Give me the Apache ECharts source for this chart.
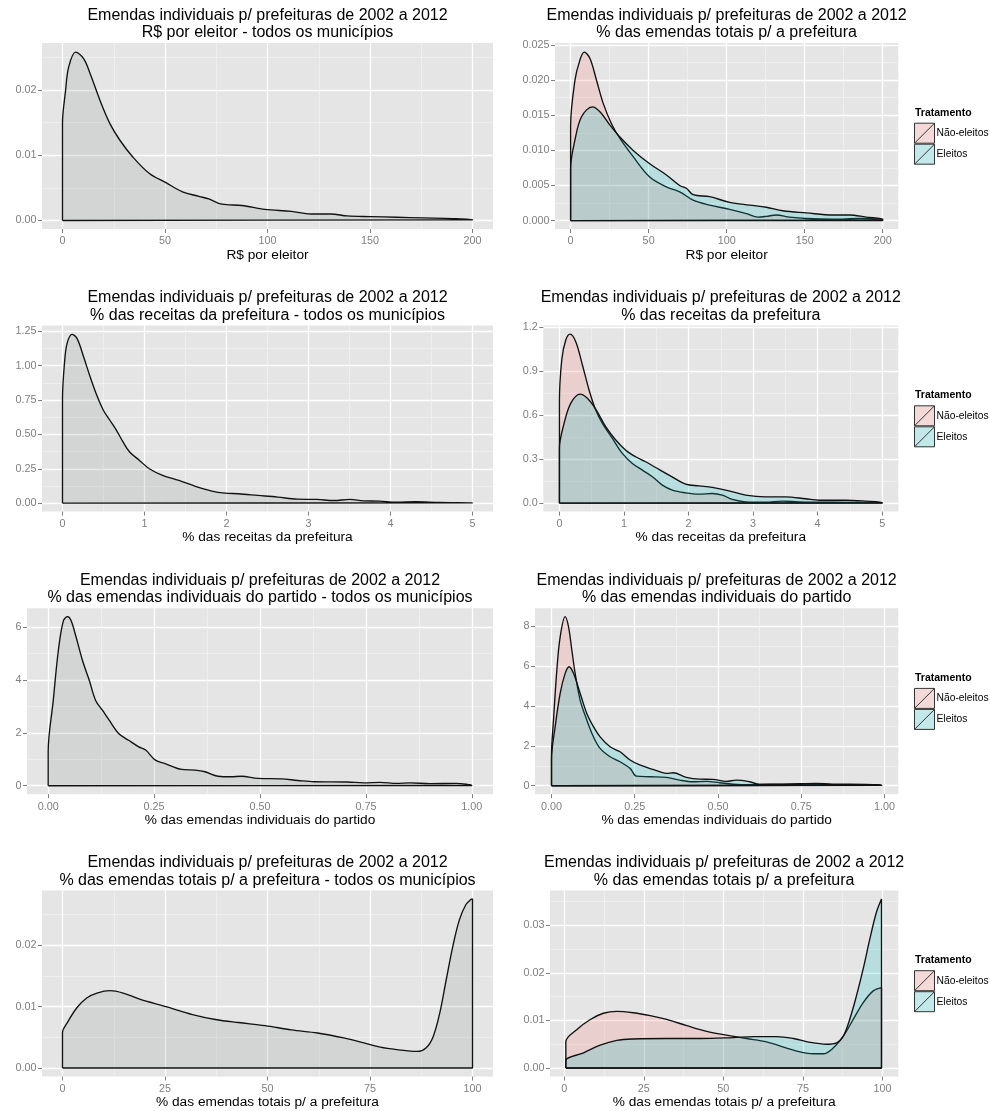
<!DOCTYPE html>
<html>
<head>
<meta charset="utf-8">
<title>Emendas individuais p/ prefeituras de 2002 a 2012</title>
<script src="https://cdn.jsdelivr.net/npm/echarts@6/dist/echarts.min.js"></script>
<style>
  html, body { margin: 0; padding: 0; background: #ffffff; }
  #chart { width: 990px; height: 1111px; }
</style>
</head>
<body>
<div id="chart"></div>
<script>
// ---- text ----
const mainTitle = 'Emendas individuais p/ prefeituras de 2002 a 2012';
const groupNames = ['Não-eleitos', 'Eleitos'];
const legendTitle = 'Tratamento';

// ---- kernel density estimates, [x, density] ----
// R$ por eleitor
const rsTodos = [[0,0.0149],[1.5,0.0199],[3,0.0235],[6.4,0.0258],[10.3,0.0248],[13.5,0.0225],[18.3,0.0184],[23.2,0.0148],[28,0.0123],[34.4,0.0097],[42.4,0.0072],[50.5,0.0058],[58.5,0.0044],[66.6,0.0037],[71.4,0.0033],[77.8,0.0025],[87.5,0.0023],[98.7,0.0017],[111.6,0.0014],[121.2,0.0010],[130.9,0.0010],[138.9,0.0007],[150.2,0.0006],[163,0.0005],[175.9,0.0004],[190.4,0.0003],[200,0.0001]];
const rsNaoEleitos = [[0,0.0134],[2.8,0.0200],[6,0.0229],[8.7,0.0240],[12.4,0.0231],[16.6,0.0200],[20.9,0.0167],[26.2,0.0138],[31.6,0.0117],[40.1,0.0091],[50.7,0.0062],[61.4,0.0048],[69.9,0.0041],[78.5,0.0029],[89.1,0.0022],[101.9,0.0016],[112.6,0.0010],[120,0.0005],[125.4,0.0006],[131.8,0.0008],[140.3,0.0005],[151,0.0003],[168,0.0002],[185,0.0003],[200,0.0001]];
const rsEleitos = [[0,0.0074],[2.8,0.0115],[7,0.0148],[14,0.0162],[18.8,0.0155],[25.2,0.0136],[31.6,0.0119],[40.1,0.0100],[50.7,0.0081],[61.4,0.0065],[69.9,0.0050],[74.2,0.0046],[78.5,0.0037],[89.1,0.0034],[101.9,0.0026],[114.7,0.0022],[125.4,0.0019],[136,0.0014],[151,0.0011],[168,0.0008],[178.7,0.0008],[189.3,0.0005],[200,0.0002]];

// % das receitas da prefeitura
const recTodos = [[0,0.76],[0.024,1.017],[0.056,1.162],[0.116,1.228],[0.177,1.199],[0.257,1.065],[0.337,0.919],[0.417,0.786],[0.498,0.676],[0.578,0.603],[0.658,0.530],[0.738,0.445],[0.819,0.372],[0.939,0.311],[1.059,0.250],[1.22,0.202],[1.42,0.165],[1.621,0.122],[1.822,0.088],[1.982,0.073],[2.143,0.068],[2.383,0.056],[2.624,0.044],[2.865,0.029],[3.106,0.027],[3.307,0.019],[3.507,0.027],[3.668,0.017],[3.868,0.015],[4.069,0.007],[4.31,0.010],[4.591,0.005],[5,0.002]];
const recNaoEleitos = [[0,0.691],[0.036,0.975],[0.098,1.111],[0.165,1.152],[0.253,1.100],[0.356,0.941],[0.459,0.771],[0.562,0.634],[0.666,0.543],[0.82,0.441],[0.975,0.339],[1.13,0.270],[1.285,0.225],[1.44,0.180],[1.595,0.123],[1.75,0.089],[1.956,0.070],[2.162,0.061],[2.368,0.066],[2.523,0.055],[2.678,0.025],[2.884,0.009],[3.194,0.007],[3.452,0.014],[3.71,0.009],[4.02,0.007],[4.484,0.005],[5,0.002]];
const recEleitos = [[0,0.373],[0.072,0.543],[0.175,0.680],[0.32,0.743],[0.433,0.714],[0.562,0.640],[0.717,0.521],[0.872,0.430],[1.027,0.361],[1.182,0.316],[1.336,0.282],[1.491,0.243],[1.698,0.191],[1.956,0.130],[2.162,0.118],[2.368,0.107],[2.626,0.084],[2.884,0.055],[3.194,0.043],[3.503,0.043],[3.813,0.030],[4.02,0.020],[4.433,0.020],[4.742,0.014],[5,0.005]];

// % das emendas individuais do partido
const parTodos = [[0,1.28],[0.012,3.23],[0.024,5.12],[0.036,6.25],[0.046,6.40],[0.054,6.25],[0.066,5.62],[0.081,4.74],[0.097,3.99],[0.112,3.23],[0.128,2.86],[0.144,2.48],[0.167,1.97],[0.19,1.72],[0.214,1.47],[0.23,1.35],[0.253,0.97],[0.276,0.84],[0.315,0.62],[0.347,0.59],[0.37,0.53],[0.401,0.36],[0.432,0.34],[0.456,0.36],[0.495,0.28],[0.55,0.26],[0.589,0.20],[0.628,0.15],[0.706,0.14],[0.745,0.11],[0.784,0.13],[0.823,0.09],[0.854,0.11],[0.901,0.08],[0.963,0.09],[1.0,0.01]];
const parNaoEleitos = [[0,1.55],[0.006,3.29],[0.016,5.79],[0.026,7.46],[0.041,8.47],[0.051,7.97],[0.061,6.80],[0.071,5.63],[0.086,4.29],[0.106,3.29],[0.126,2.45],[0.146,1.87],[0.176,1.45],[0.206,1.20],[0.236,0.87],[0.255,0.48],[0.295,0.45],[0.345,0.42],[0.385,0.28],[0.425,0.20],[0.465,0.22],[0.505,0.15],[0.545,0.08],[0.595,0.05],[0.665,0.07],[0.745,0.07],[0.844,0.05],[0.944,0.05],[0.992,0.02]];
const parEleitos = [[0,1.3],[0.011,2.96],[0.026,4.63],[0.041,5.63],[0.053,5.96],[0.066,5.63],[0.086,4.63],[0.106,3.62],[0.126,2.96],[0.146,2.45],[0.176,1.95],[0.206,1.70],[0.236,1.29],[0.265,1.04],[0.305,0.82],[0.345,0.62],[0.365,0.65],[0.405,0.42],[0.445,0.33],[0.485,0.32],[0.525,0.22],[0.555,0.28],[0.595,0.20],[0.625,0.07],[0.695,0.08],[0.745,0.10],[0.794,0.12],[0.844,0.08],[0.944,0.07],[0.992,0.03]];

// % das emendas totais p/ a prefeitura
const totTodos = [[0,0.0058],[1.1,0.0073],[3.5,0.0098],[5.9,0.0114],[8.4,0.0122],[11.6,0.0126],[14.8,0.0122],[18.8,0.0112],[25.2,0.0100],[31.7,0.0087],[37.3,0.0079],[42.9,0.0074],[49.4,0.0069],[55.8,0.0062],[62.2,0.0057],[68.6,0.0049],[73.5,0.0041],[77.5,0.0034],[81.5,0.0030],[86.5,0.0027],[88.7,0.0033],[90.4,0.0051],[92,0.0089],[93.6,0.0144],[95.2,0.0198],[96.8,0.0241],[98.4,0.0266],[99.6,0.0274],[100,0.0275]];
const totNaoEleitos = [[0.5,0.0055],[4,0.0081],[8.2,0.0102],[12.3,0.0115],[16.5,0.0119],[21.8,0.0116],[27,0.0110],[32.2,0.0102],[38.5,0.0089],[44.8,0.0077],[51,0.0069],[57.3,0.0062],[63.6,0.0055],[69.9,0.0042],[74.1,0.0034],[78.2,0.0030],[81.4,0.0030],[84.5,0.0042],[87.7,0.0067],[90.8,0.0102],[93.9,0.0137],[97.1,0.0162],[99.7,0.0169]];
const totEleitos = [[0.5,0.0016],[6.1,0.0032],[11.3,0.0048],[16.5,0.0058],[21.8,0.0061],[32.2,0.0062],[42.7,0.0062],[53.1,0.0064],[59.4,0.0066],[66.7,0.0066],[72,0.0062],[77.2,0.0054],[82.4,0.0050],[85.6,0.0053],[87.7,0.0067],[89.7,0.0102],[91.8,0.0151],[93.9,0.0207],[96,0.0270],[98.1,0.0327],[99.7,0.0355]];

// ---- tick values ----
const ticksRS = [0, 50, 100, 150, 200];
const minorRS = [25, 75, 125, 175];
const ticksRec = [0, 1, 2, 3, 4, 5];
const minorRec = [0.5, 1.5, 2.5, 3.5, 4.5];
const ticksPar = [0, 0.25, 0.5, 0.75, 1];
const minorPar = [0.125, 0.375, 0.625, 0.875];
const ticksTot = [0, 25, 50, 75, 100];
const minorTot = [12.5, 37.5, 62.5, 87.5];

const yTicksRSTodos = [0, 0.01, 0.02];
const yMinorRSTodos = [0.005, 0.015, 0.025];
const yTicksRSGrupos = [0, 0.005, 0.01, 0.015, 0.02, 0.025];
const yMinorRSGrupos = [0.0025, 0.0075, 0.0125, 0.0175, 0.0225];
const yTicksRecTodos = [0, 0.25, 0.5, 0.75, 1, 1.25];
const yMinorRecTodos = [0.125, 0.375, 0.625, 0.875, 1.125];
const yTicksRecGrupos = [0, 0.3, 0.6, 0.9, 1.2];
const yMinorRecGrupos = [0.15, 0.45, 0.75, 1.05];
const yTicksParTodos = [0, 2, 4, 6];
const yMinorParTodos = [1, 3, 5];
const yTicksParGrupos = [0, 2, 4, 6, 8];
const yMinorParGrupos = [1, 3, 5, 7];
const yTicksTotTodos = [0, 0.01, 0.02];
const yMinorTotTodos = [0.005, 0.015, 0.025];
const yTicksTotGrupos = [0, 0.01, 0.02, 0.03];
const yMinorTotGrupos = [0.005, 0.015, 0.025, 0.035];

// ---- panels (layout in px) ----
const panels = [
  { sub: 'R$ por eleitor - todos os municípios', xName: 'R$ por eleitor', curves: [rsTodos],
    x: [-10, 210], xt: ticksRS, xm: minorRS, xd: 0, y: [-0.0013, 0.0272], yt: yTicksRSTodos, ym: yMinorRSTodos, yd: 2,
    box: [42, 43, 451, 186] },
  { sub: '% das emendas totais p/ a prefeitura', xName: 'R$ por eleitor', curves: [rsNaoEleitos, rsEleitos],
    x: [-10, 210], xt: ticksRS, xm: minorRS, xd: 0, y: [-0.0012, 0.0253], yt: yTicksRSGrupos, ym: yMinorRSGrupos, yd: 3,
    box: [555, 43, 343.3, 186] },
  { sub: '% das receitas da prefeitura - todos os municípios', xName: '% das receitas da prefeitura', curves: [recTodos],
    x: [-0.25, 5.25], xt: ticksRec, xm: minorRec, xd: 0, y: [-0.0615, 1.2915], yt: yTicksRecTodos, ym: yMinorRecTodos, yd: 2,
    box: [42, 325.6, 451, 186] },
  { sub: '% das receitas da prefeitura', xName: '% das receitas da prefeitura', curves: [recNaoEleitos, recEleitos],
    x: [-0.25, 5.25], xt: ticksRec, xm: minorRec, xd: 0, y: [-0.0576, 1.2096], yt: yTicksRecGrupos, ym: yMinorRecGrupos, yd: 1,
    box: [543.3, 325.6, 355, 186] },
  { sub: '% das emendas individuais do partido - todos os municípios', xName: '% das emendas individuais do partido', curves: [parTodos],
    x: [-0.05, 1.05], xt: ticksPar, xm: minorPar, xd: 2, y: [-0.32, 6.72], yt: yTicksParTodos, ym: yMinorParTodos, yd: 0,
    box: [27, 608.2, 466, 186] },
  { sub: '% das emendas individuais do partido', xName: '% das emendas individuais do partido', curves: [parNaoEleitos, parEleitos],
    x: [-0.0496, 1.0416], xt: ticksPar, xm: minorPar, xd: 2, y: [-0.4235, 8.8935], yt: yTicksParGrupos, ym: yMinorParGrupos, yd: 0,
    box: [535, 608.2, 363.3, 186] },
  { sub: '% das emendas totais p/ a prefeitura - todos os municípios', xName: '% das emendas totais p/ a prefeitura', curves: [totTodos],
    x: [-5, 105], xt: ticksTot, xm: minorTot, xd: 0, y: [-0.001375, 0.028875], yt: yTicksTotTodos, ym: yMinorTotTodos, yd: 2,
    box: [42, 890.5, 451, 186] },
  { sub: '% das emendas totais p/ a prefeitura', xName: '% das emendas totais p/ a prefeitura', curves: [totNaoEleitos, totEleitos],
    x: [-4.475, 104.975], xt: ticksTot, xm: minorTot, xd: 0, y: [-0.001775, 0.037275], yt: yTicksTotGrupos, ym: yMinorTotGrupos, yd: 2,
    box: [550, 890.5, 348.3, 186] }
];

// ---- styles ----
const FONT = '"Liberation Sans", Arial, Helvetica, sans-serif';
const PANEL_BG = '#E5E5E5';
const OUTLINE = '#111111';
const fillTodos = 'rgba(139,149,144,0.2)';
const groupFills = ['rgba(248,118,109,0.2)', 'rgba(0,191,196,0.2)'];
const groupKeyColors = ['#F3D9D7', '#C2E8E9'];
const KEY_ICON = 'path://M0,0L20,0L20,20L0,20ZM0,20L20,0';

// closed density polygon: baseline -> curve -> baseline
function densityPolygon(pts) {
  const first = pts[0][0], last = pts[pts.length - 1][0];
  return [[first, 0]].concat(pts, [[last, 0], [first, 0]]);
}

const grid = [], xAxis = [], yAxis = [], series = [], title = [], legend = [];

panels.forEach((p, i) => {
  const [left, top, width, height] = p.box;
  grid.push({ left, top, width, height, show: true, backgroundColor: PANEL_BG, borderWidth: 0, containLabel: false });

  // major axes (ticks, labels, white grid lines)
  xAxis.push({
    type: 'value', gridIndex: i, min: p.x[0], max: p.x[1], position: 'bottom',
    axisLine: { show: false, onZero: false },
    axisTick: { show: true, length: 4, customValues: p.xt, lineStyle: { color: '#7f7f7f', width: 1 } },
    axisLabel: { show: true, customValues: p.xt, margin: 7, color: '#7f7f7f', fontSize: 10.8, fontFamily: FONT,
                 formatter: v => Number(v).toFixed(p.xd) },
    splitLine: { show: true, lineStyle: { color: '#ffffff', width: 1.3 } },
    name: p.xName, nameLocation: 'middle', nameGap: 19,
    nameTextStyle: { color: '#000', fontSize: 13.7, fontFamily: FONT }
  });
  yAxis.push({
    type: 'value', gridIndex: i, min: p.y[0], max: p.y[1], position: 'left',
    axisLine: { show: false, onZero: false },
    axisTick: { show: true, length: 4, customValues: p.yt, lineStyle: { color: '#7f7f7f', width: 1 } },
    axisLabel: { show: true, customValues: p.yt, margin: 5.5, color: '#7f7f7f', fontSize: 10.8, fontFamily: FONT,
                 formatter: v => Number(v).toFixed(p.yd) },
    splitLine: { show: true, lineStyle: { color: '#ffffff', width: 1.3 } }
  });
  // minor grid lines
  xAxis.push({
    type: 'value', gridIndex: i, min: p.x[0], max: p.x[1], position: 'bottom',
    axisLine: { show: false }, axisTick: { show: false, customValues: p.xm }, axisLabel: { show: false },
    splitLine: { show: true, lineStyle: { color: '#F2F2F2', width: 0.7 } }
  });
  yAxis.push({
    type: 'value', gridIndex: i, min: p.y[0], max: p.y[1], position: 'left',
    axisLine: { show: false }, axisTick: { show: false, customValues: p.ym }, axisLabel: { show: false },
    splitLine: { show: true, lineStyle: { color: '#F2F2F2', width: 0.7 } }
  });

  const xIdx = xAxis.length - 2, yIdx = yAxis.length - 2;
  const grouped = p.curves.length > 1;
  p.curves.forEach((c, k) => {
    series.push({
      type: 'line',
      name: grouped ? groupNames[k] : 'Todos os municípios',
      xAxisIndex: xIdx, yAxisIndex: yIdx,
      data: densityPolygon(c),
      smooth: 0.35,
      symbol: 'none',
      lineStyle: { color: OUTLINE, width: 1.35 },
      itemStyle: { color: grouped ? groupKeyColors[k] : fillTodos },
      areaStyle: { color: grouped ? groupFills[k] : fillTodos, opacity: 1 },
      emphasis: { disabled: true },
      silent: true,
      z: 2 + k
    });
  });

  // two-line panel title
  title.push({
    text: mainTitle + '\n' + p.sub,
    left: left + width / 2, top: top - 36.5, textAlign: 'center', padding: 0,
    textStyle: { fontSize: 16, fontWeight: 'normal', color: '#000', lineHeight: 17.5, fontFamily: FONT }
  });

  if (grouped) {
    const cy = top + height / 2;
    title.push({
      text: legendTitle, left: 915, top: cy - 28.5, padding: 0,
      textStyle: { fontSize: 10.5, fontWeight: 'bold', color: '#000', fontFamily: FONT }
    });
    legend.push({
      orient: 'vertical', left: 914, top: cy - 13.3, padding: 0,
      itemWidth: 20, itemHeight: 20, itemGap: 0, selectedMode: false,
      textStyle: { fontSize: 10.3, color: '#000', fontFamily: FONT, padding: [0, 0, 0, -3] },
      data: groupNames.map((n, k) => ({
        name: n, icon: KEY_ICON,
        itemStyle: { color: groupKeyColors[k], borderColor: '#333333', borderWidth: 1 }
      }))
    });
  }
});

const chart = echarts.init(document.getElementById('chart'), null, { renderer: 'canvas' });
chart.setOption({
  backgroundColor: '#ffffff',
  animation: false,
  title, legend, grid, xAxis, yAxis, series
});
</script>
</body>
</html>
